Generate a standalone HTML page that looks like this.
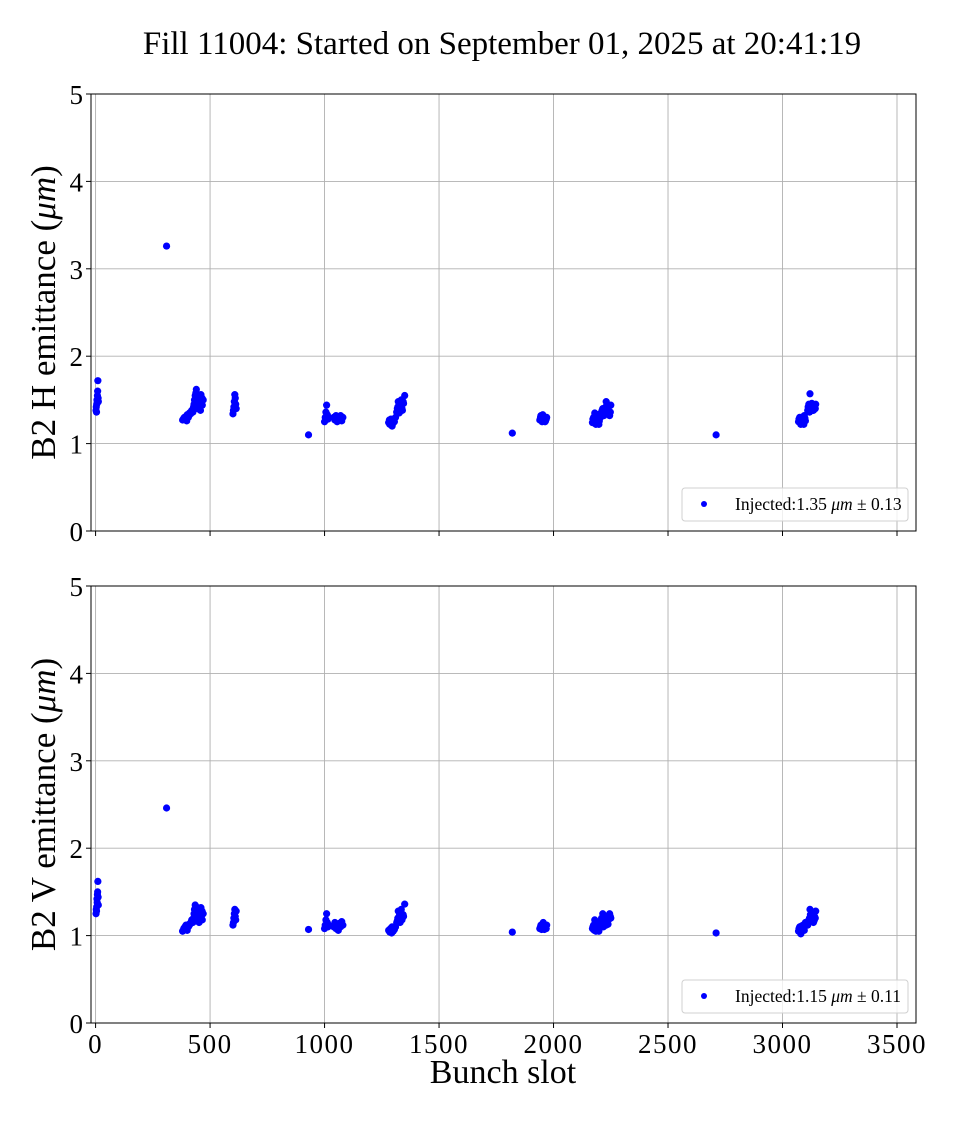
<!DOCTYPE html>
<html><head><meta charset="utf-8"><style>
html,body{margin:0;padding:0;background:#fff}
svg text{font-family:"Liberation Serif",serif;fill:#000}
</style></head><body>
<svg id="chart" width="960" height="1120" xmlns="http://www.w3.org/2000/svg">
<text x="502" y="54" font-size="33" text-anchor="middle">Fill 11004: Started on September 01, 2025 at 20:41:19</text>
</svg>
<script>
// ---- data ----
const xTicks = [0,500,1000,1500,2000,2500,3000,3500];
const yTicks = [0,1,2,3,4,5];
const hSlots = [2,3,4,5,6,7,8,9,10,11,12, 310,
 380,385,390,395,400,405,410,415,420,425,430,432,435,438,440,442,445,448,450,452,455,458,460,462,465,
 600,602,604,606,608,610,612,614, 930,
 1000,1003,1006,1009,1012,1015,1018,1040,1045,1050,1055,1060,1065,1070,1075,1080,
 1280,1285,1290,1295,1300,1305,1310,1315,1320,1322,1325,1328,1330,1335,1340,1345,1350,
 1820, 1940,1945,1950,1955,1960,1965,1970,
 2170,2175,2180,2185,2190,2195,2200,2205,2210,2215,2220,2225,2230,2235,2240,2245,2250,
 2710, 3070,3075,3080,3085,3090,3095,3100,3110,3115,3120,3125,3130,3135,3140,3145,
 388,398,408,418,428,436,446,456,466,470,
 1283,1288,1293,1298,1303,1318,1326,1333,1338,1343,
 1943,1948,1953,1958,1963,1968,
 2172,2178,2183,2188,2193,2198,2203,2212,2218,2228,2238,2248,
 3072,3078,3083,3088,3093,3098,3112,3118,3122,3128,3132,3138,3143];
const hVals = [1.38,1.42,1.36,1.45,1.5,1.47,1.55,1.6,1.72,1.52,1.48, 3.26,
 1.27,1.29,1.28,1.31,1.33,1.3,1.35,1.34,1.38,1.36,1.45,1.5,1.55,1.58,1.62,1.52,1.48,1.42,1.55,1.45,1.5,1.38,1.56,1.48,1.52,
 1.34,1.38,1.42,1.48,1.56,1.52,1.45,1.4, 1.10,
 1.25,1.3,1.36,1.44,1.33,1.28,1.3,1.3,1.27,1.32,1.25,1.3,1.28,1.32,1.26,1.3,
 1.24,1.22,1.28,1.2,1.26,1.25,1.3,1.36,1.42,1.48,1.38,1.45,1.4,1.5,1.38,1.46,1.55,
 1.12, 1.27,1.32,1.25,1.3,1.28,1.26,1.3,
 1.24,1.3,1.35,1.22,1.28,1.33,1.26,1.3,1.36,1.4,1.32,1.38,1.48,1.35,1.42,1.32,1.44,
 1.10, 1.25,1.3,1.22,1.28,1.25,1.32,1.26,1.38,1.45,1.57,1.4,1.44,1.38,1.42,1.45,
 1.3,1.26,1.32,1.37,1.42,1.46,1.4,1.52,1.44,1.5,
 1.27,1.24,1.21,1.23,1.28,1.4,1.35,1.44,1.4,1.48,
 1.3,1.27,1.33,1.29,1.25,1.28,
 1.28,1.26,1.32,1.24,1.3,1.22,1.34,1.38,1.35,1.42,1.38,1.36,
 1.28,1.24,1.3,1.26,1.22,1.29,1.42,1.36,1.4,1.46,1.38,1.43,1.4];
const vSlots = hSlots;
const vVals = [1.25,1.3,1.28,1.33,1.42,1.38,1.47,1.5,1.62,1.44,1.35, 2.46,
 1.05,1.08,1.1,1.12,1.06,1.1,1.12,1.14,1.18,1.15,1.25,1.3,1.35,1.22,1.28,1.18,1.32,1.2,1.26,1.15,1.3,1.2,1.32,1.22,1.28,
 1.12,1.15,1.2,1.25,1.3,1.22,1.18,1.28, 1.07,
 1.08,1.12,1.18,1.25,1.15,1.1,1.12,1.1,1.15,1.08,1.12,1.06,1.14,1.1,1.16,1.12,
 1.06,1.04,1.08,1.1,1.05,1.07,1.1,1.15,1.2,1.28,1.18,1.24,1.15,1.3,1.2,1.22,1.36,
 1.04, 1.08,1.12,1.1,1.15,1.07,1.1,1.12,
 1.08,1.12,1.18,1.05,1.1,1.15,1.08,1.12,1.2,1.25,1.15,1.2,1.12,1.22,1.18,1.25,1.2,
 1.03, 1.05,1.1,1.02,1.08,1.12,1.06,1.15,1.12,1.18,1.3,1.2,1.25,1.15,1.22,1.28,
 1.07,1.09,1.13,1.16,1.2,1.24,1.28,1.22,1.18,1.25,
 1.05,1.08,1.03,1.06,1.09,1.17,1.22,1.26,1.18,1.24,
 1.1,1.07,1.13,1.09,1.11,1.08,
 1.1,1.06,1.13,1.08,1.12,1.05,1.16,1.14,1.1,1.18,1.13,1.22,
 1.08,1.04,1.11,1.06,1.09,1.13,1.16,1.2,1.24,1.18,1.22,1.17,1.2];
const panels = [
 {top:94, bottom:531, label:"B2 H emittance (", slots:hSlots, vals:hVals, legend:"1.35", sd:"0.13", showX:false, name:"h"},
 {top:586, bottom:1023, label:"B2 V emittance (", slots:vSlots, vals:vVals, legend:"1.15", sd:"0.11", showX:true, name:"v"}
];
// ---- drawing ----
const NS="http://www.w3.org/2000/svg";
const svg=document.getElementById('chart');
const L=91,R=916,XMIN=-20,XMAX=3583;
const xs=v=>L+(v-XMIN)/(XMAX-XMIN)*(R-L);
function mk(t,a,p){const e=document.createElementNS(NS,t);for(const k in a)e.setAttribute(k,a[k]);(p||svg).appendChild(e);return e;}
panels.forEach(p=>{
 const ys=v=>p.bottom-v/5*(p.bottom-p.top);
 const g=mk('g',{});
 
 
 xTicks.forEach(t=>{
  const l=mk('line',{x1:xs(t),x2:xs(t),y1:p.top,y2:p.bottom,stroke:'#b0b0b0','stroke-width':0.9},g);
  
  
  mk('line',{x1:xs(t),x2:xs(t),y1:p.bottom,y2:p.bottom+5,stroke:'#000','stroke-width':1},g);
  if(p.showX){const tx=mk('text',{x:xs(t),y:p.bottom+30,'font-size':27,'letter-spacing':1.5,'text-anchor':'middle'},g);tx.textContent=t;
   
   }
 });
 yTicks.forEach(t=>{
  const l=mk('line',{x1:L,x2:R,y1:ys(t),y2:ys(t),stroke:'#b0b0b0','stroke-width':0.9},g);
  
  
  mk('line',{x1:L-5,x2:L,y1:ys(t),y2:ys(t),stroke:'#000','stroke-width':1},g);
  const tx=mk('text',{x:L-8,y:ys(t)+10,'font-size':27,'text-anchor':'end'},g);tx.textContent=t;
  
  
 });
 p.slots.forEach((s,i)=>{
  const c=mk('circle',{cx:xs(s),cy:ys(p.vals[i]),r:3.6,fill:'#0000ff'},g);
  
  
 });
 const fr=mk('rect',{x:L,y:p.top,width:R-L,height:p.bottom-p.top,fill:'none',stroke:'#000','stroke-width':1},g);
 
 
 const cy=(p.top+p.bottom)/2;
 const yl=mk('text',{x:0,y:0,'font-size':35,'text-anchor':'middle',transform:`translate(55,${cy}) rotate(-90)`},g);
 yl.innerHTML=p.label+'<tspan font-style="italic">μm</tspan>)';
 
 
 const lg=mk('g',{},g);
 
 
 mk('rect',{x:682,y:p.bottom-43,width:226,height:33,rx:3,fill:'#fff','fill-opacity':0.8,stroke:'#d0d0d0'},lg);
 mk('circle',{cx:704,cy:p.bottom-27,r:3,fill:'#0000ff'},lg);
 const lt=mk('text',{x:735,y:p.bottom-21,'font-size':17.5},lg);
 lt.innerHTML='Injected:'+p.legend+' <tspan font-style="italic">μm</tspan> ± '+p.sd;
 
 
});
const xl=mk('text',{x:503,y:1083,'font-size':34,'text-anchor':'middle'});
xl.textContent='Bunch slot';


</script>
</body></html>
